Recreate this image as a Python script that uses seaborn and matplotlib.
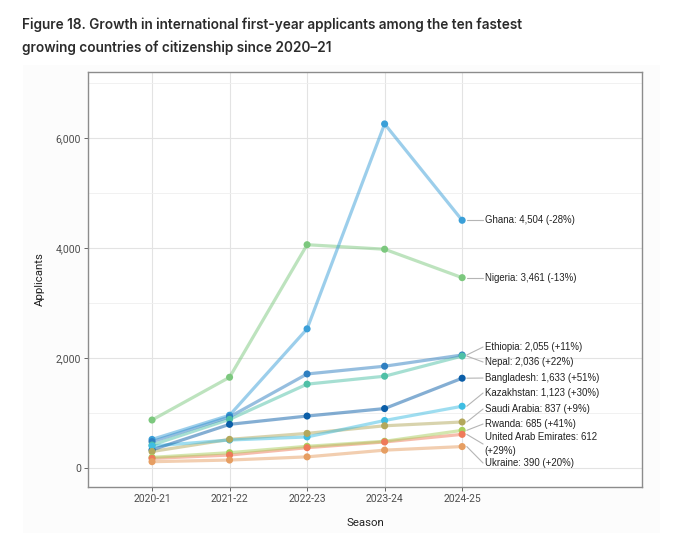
import pandas as pd
import seaborn as sns
import matplotlib.pyplot as plt
from matplotlib.patches import Rectangle

seasons = ['2020-21', '2021-22', '2022-23', '2023-24', '2024-25']
countries = ['Ghana', 'Nigeria', 'Ethiopia', 'Nepal', 'Bangladesh',
             'Kazakhstan', 'Saudi Arabia', 'Rwanda', 'United Arab Emirates', 'Ukraine']

ghana = [520, 960, 2530, 6256, 4504]
nigeria = [873, 1650, 4060, 3978, 3461]
ethiopia = [480, 930, 1710, 1851, 2055]
nepal = [418, 885, 1525, 1669, 2036]
bangladesh = [330, 794, 945, 1081, 1633]
kazakhstan = [400, 509, 565, 864, 1123]
saudi_arabia = [300, 521, 630, 768, 837]
rwanda = [194, 279, 395, 486, 685]
uae = [175, 236, 370, 474, 612]
ukraine = [115, 145, 203, 325, 390]

labels = ['Ghana: 4,504 (-28%)', 'Nigeria: 3,461 (-13%)', 'Ethiopia: 2,055 (+11%)',
          'Nepal: 2,036 (+22%)', 'Bangladesh: 1,633 (+51%)', 'Kazakhstan: 1,123 (+30%)',
          'Saudi Arabia: 837 (+9%)', 'Rwanda: 685 (+41%)',
          'United Arab Emirates: 612\n(+29%)', 'Ukraine: 390 (+20%)']
label_y = [4504, 3461, 2200, 1927, 1636, 1364, 1073, 800, 436, 91]

colors = ['#3a9fd8', '#7cc87e', '#2f7fc1', '#4fc0a6', '#0b5ea8',
          '#3fbde2', '#b3a85c', '#a9cf5e', '#ef7a5a', '#e69e62']

values = [ghana, nigeria, ethiopia, nepal, bangladesh,
          kazakhstan, saudi_arabia, rwanda, uae, ukraine]
df = pd.DataFrame([
    {'country': c, 'season': s, 'applicants': v}
    for c, vals in zip(countries, values)
    for s, v in zip(seasons, vals)
])
df['pos'] = df['season'].map({s: i for i, s in enumerate(seasons)})

sns.set_theme(style='white')
plt.rcParams['font.family'] = ['Roboto', 'DejaVu Sans']

fig = plt.figure(figsize=(6.77, 5.43), dpi=100)
fig.patches.append(Rectangle((23 / 677, 10 / 543), 637 / 677, 468 / 543,
                             transform=fig.transFigure, facecolor='#fcfcfc',
                             edgecolor='none', zorder=-5))
ax = fig.add_axes([88 / 677, 56 / 543, 554 / 677, 415 / 543])
ax.set_facecolor('white')

palette = dict(zip(countries, colors))
sns.lineplot(data=df, x='pos', y='applicants', hue='country', palette=palette,
             hue_order=countries[::-1], linewidth=2.3, alpha=0.5, legend=False, ax=ax)
sns.scatterplot(data=df, x='pos', y='applicants', hue='country', palette=palette,
                hue_order=countries[::-1], s=26, edgecolor='none', legend=False,
                zorder=3, ax=ax)

last = len(seasons) - 1
for c, lab, ly in zip(countries, labels, label_y):
    v = df.loc[(df.country == c) & (df.pos == last), 'applicants'].item()
    ax.plot([last + 0.06, last + 0.27], [v, ly], color='#b5b5b5', lw=0.8, zorder=2)
    ax.text(last + 0.29, ly, lab, fontsize=6.9, va='center', ha='left',
            color='#222222', family=['Liberation Sans', 'DejaVu Sans'],
            linespacing=1.6)

ax.set_xlim(-0.826, 6.32)
ax.set_ylim(-345, 7200)
ax.set_xticks(range(len(seasons)))
ax.set_xticklabels(seasons)
ax.set_yticks([0, 2000, 4000, 6000])
ax.set_yticklabels(['0', '2,000', '4,000', '6,000'])
ax.set_yticks([1000, 3000, 5000, 7000], minor=True)
ax.grid(which='major', color='#e3e3e3', lw=0.8)
ax.grid(which='minor', axis='y', color='#efefef', lw=0.6)
ax.set_axisbelow(True)
ax.tick_params(which='major', length=3, width=0.7, color='#666666',
               labelsize=7.5, labelcolor='#4d4d4d', pad=2, bottom=True, left=True)
ax.tick_params(which='minor', length=0)
for sp in ax.spines.values():
    sp.set_color('#8c8c8c')
    sp.set_linewidth(1.0)

ax.set_xlabel('Season', fontsize=8.2, color='#222222', labelpad=10)
ax.set_ylabel('Applicants', fontsize=8.2, color='#222222', labelpad=8)

fig.text(22 / 677, 1 - 18 / 543,
         'Figure 18. Growth in international first-year applicants among the ten fastest\n'
         'growing countries of citizenship since 2020\u201321',
         fontsize=9.8, fontweight='semibold', color='#2b2b2b', va='top', ha='left',
         linespacing=1.7, family=['Inter', 'DejaVu Sans'])

fig.savefig('out.png', dpi=100)
